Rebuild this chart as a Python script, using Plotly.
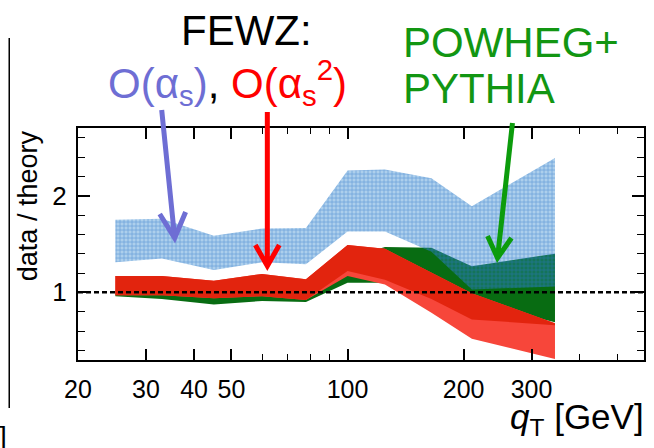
import numpy as np
import plotly.graph_objects as go

# transverse-momentum points (GeV)
qT = [25, 33, 45, 60, 78, 100, 125, 165, 210, 345]

# FEWZ O(alpha_s) band
nlo_hi = [1.75, 1.76, 1.585, 1.66, 1.665, 2.26, 2.27, 2.18, 1.89, 2.39]
nlo_lo = [1.31, 1.35, 1.23, 1.31, 1.29, 1.63, 1.63, 1.42, 1.03, 1.06]

# FEWZ O(alpha_s^2) band: outer envelope and inner (solid) part
nnlo_hi = [1.17, 1.17, 1.12, 1.19, 1.135, 1.49, 1.45, 1.20, 0.99, 0.68]
nnlo_mid = [0.97, 0.97, 0.94, 0.96, 0.92, 1.22, 1.13, 0.93, 0.72, 0.66]
nnlo_lo = [0.97, 0.97, 0.94, 0.96, 0.92, 1.17, 1.08, 0.79, 0.52, 0.31]

# POWHEG+PYTHIA band
pow_hi = [1.02, 1.02, 1.0, 1.02, 1.0, 1.35, 1.47, 1.46, 1.27, 1.40]
pow_lo = [0.96, 0.93, 0.875, 0.91, 0.90, 1.10, 1.10, 0.95, 0.90, 0.69]

x_ticks = [20, 30, 40, 50, 100, 200, 300]
x_minor = [60, 70, 80, 90, 400, 500]
y_ticks = [1, 2]

FONT = "Liberation Sans, Arial, sans-serif"
W, H = 654, 448
L, R, T, B = 78, 8, 128, 88


def band(x, hi, lo):
    return list(x) + list(x)[::-1], list(hi) + list(lo)[::-1]


def px(xp):
    return (xp - L) / (W - L - R)


def py(yp):
    return (H - B - yp) / (H - T - B)


fig = go.Figure()

bx, by = band(qT, pow_hi, pow_lo)
fig.add_trace(go.Scatter(x=bx, y=by, fill="toself", mode="lines", line=dict(width=0),
                         fillcolor="#086c12", hoverinfo="skip"))
bx, by = band(qT, nnlo_hi, nnlo_lo)
fig.add_trace(go.Scatter(x=bx, y=by, fill="toself", mode="lines", line=dict(width=0),
                         fillcolor="#f7463a", hoverinfo="skip"))
bx, by = band(qT, nnlo_hi, nnlo_mid)
fig.add_trace(go.Scatter(x=bx, y=by, fill="toself", mode="lines", line=dict(width=0),
                         fillcolor="#e2240e", hoverinfo="skip"))
bx, by = band(qT, nlo_hi, nlo_lo)
fig.add_trace(go.Scatter(x=bx, y=by, fill="toself", mode="lines", line=dict(width=0),
                         fillcolor="rgba(40,130,205,0.40)",
                         fillpattern=dict(shape="+", size=4, solidity=0.35,
                                          fgcolor="rgba(45,115,200,0.5)",
                                          bgcolor="rgba(40,130,205,0.38)",
                                          fillmode="replace"),
                         hoverinfo="skip"))

shapes = [
    dict(type="line", xref="paper", x0=0, x1=1, yref="y", y0=1, y1=1,
         line=dict(color="black", width=2.5, dash="5px,3px"), layer="above"),
]


def arrow(x0, y0, x1, y1, wl, wr, color, width):
    path = (f"M {px(x0)} {py(y0)} L {px(x1)} {py(y1)} "
            f"M {px(wl[0])} {py(wl[1])} L {px(x1)} {py(y1)} L {px(wr[0])} {py(wr[1])}")
    return dict(type="path", xref="paper", yref="paper", path=path,
                line=dict(color=color, width=width), layer="above")


BLUE = "#6e6ed4"
RED = "#ff0000"
GREEN = "#129612"
shapes.append(arrow(162, 110, 175, 238, (160, 214), (186, 212), BLUE, 5))
shapes.append(arrow(268, 112, 268, 266, (256, 245), (280, 245), RED, 5))
shapes.append(arrow(514, 123, 499, 258, (489, 236), (513, 238), "#0c9c0c", 5))

# edge of the neighbouring panel
shapes.append(dict(type="line", xref="paper", yref="paper", x0=px(9), x1=px(9),
                   y0=py(38), y1=py(408), line=dict(color="black", width=1.5)))


def label(text, xc, yc, size, color="black", **kw):
    d = dict(text=text, x=px(xc), y=py(yc), xref="paper", yref="paper",
             xanchor="center", yanchor="middle", showarrow=False,
             font=dict(family=FONT, size=size, color=color))
    d.update(kw)
    return d


annotations = [
    label("FEWZ:", 247, 30, 42),
    label(f"<span style='color:{BLUE}'>O(α<sub>s</sub>)</span>, "
          f"<span style='color:{RED}'>O(α<sub>s</sub><sup>2</sup>)</span>", 228, 82, 42),
    label("POWHEG+", 513, 42, 42, GREEN),
    label("PYTHIA", 480, 88, 42, GREEN),
    label("data / theory", 28, 206, 27, textangle=-90),
    dict(text="<i>q</i><sub>T</sub> [GeV]", x=1.003, y=py(419), xref="paper", yref="paper",
         xanchor="right", yanchor="middle", showarrow=False,
         font=dict(family=FONT, size=35, color="black")),
    label("]", 3, 436, 28),
]

fig.update_layout(
    width=W, height=H, margin=dict(l=L, r=R, t=T, b=B),
    paper_bgcolor="white", plot_bgcolor="white", showlegend=False,
    shapes=shapes, annotations=annotations,
    font=dict(family=FONT, size=24, color="black"),
)
fig.update_xaxes(type="log", range=[np.log10(20), np.log10(587)],
                 tickmode="array", tickvals=x_ticks, ticktext=[str(v) for v in x_ticks],
                 ticks="inside", ticklen=11, tickwidth=1.5, tickcolor="black",
                 minor=dict(tickmode="array", tickvals=x_minor, ticks="inside",
                            ticklen=6, tickwidth=1, tickcolor="black"),
                 showline=True, linewidth=2, linecolor="black", mirror="ticks",
                 showgrid=False, zeroline=False, ticklabelstandoff=6,
                 tickfont=dict(family=FONT, size=25))
fig.update_yaxes(range=[0.3, 2.7], tickmode="array", tickvals=y_ticks,
                 ticktext=[str(v) for v in y_ticks],
                 ticks="inside", ticklen=12, tickwidth=1.5, tickcolor="black",
                 minor=dict(tick0=0, dtick=0.2, ticks="inside", ticklen=7,
                            tickwidth=1, tickcolor="black"),
                 showline=True, linewidth=2, linecolor="black", mirror="ticks",
                 showgrid=False, zeroline=False, ticklabelstandoff=4,
                 tickfont=dict(family=FONT, size=26))

fig.write_html("out.html")
